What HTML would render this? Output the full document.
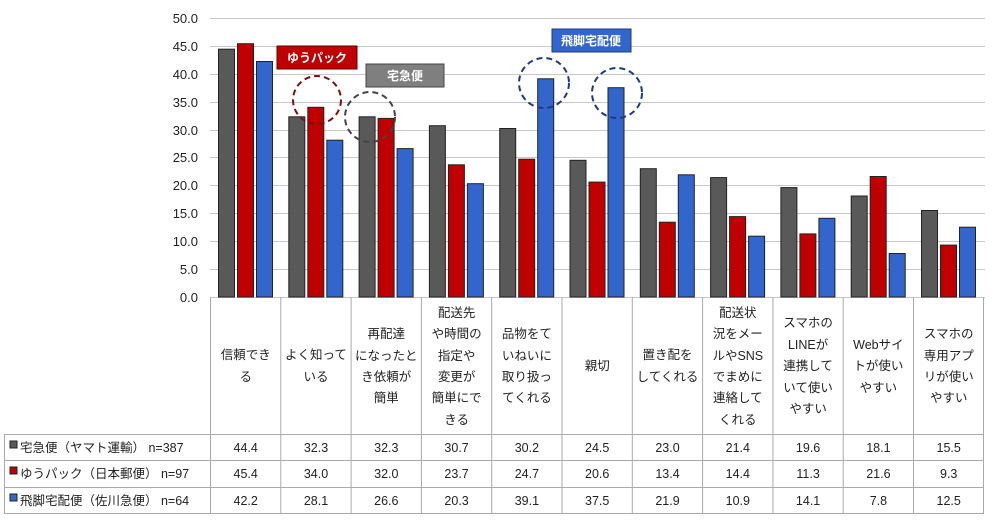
<!DOCTYPE html>
<html><head><meta charset="utf-8"><style>
html,body{margin:0;padding:0;background:#fff;}
svg{display:block;font-family:"Liberation Sans","Noto Sans CJK JP",sans-serif;}
</style></head><body>
<svg width="995" height="523" viewBox="0 0 995 523" xmlns="http://www.w3.org/2000/svg">
<g stroke="#c8c8c8" stroke-width="1">
<line x1="210" y1="18.5" x2="985" y2="18.5"/><line x1="210" y1="46.5" x2="985" y2="46.5"/>
<line x1="210" y1="74.5" x2="985" y2="74.5"/><line x1="210" y1="102.5" x2="985" y2="102.5"/>
<line x1="210" y1="130.5" x2="985" y2="130.5"/><line x1="210" y1="157.5" x2="985" y2="157.5"/>
<line x1="210" y1="185.5" x2="985" y2="185.5"/><line x1="210" y1="213.5" x2="985" y2="213.5"/>
<line x1="210" y1="241.5" x2="985" y2="241.5"/><line x1="210" y1="269.5" x2="985" y2="269.5"/>
<line x1="210" y1="297.5" x2="985" y2="297.5"/>
</g>
<g font-size="13" fill="#222" text-anchor="end">
<text x="198" y="23">50.0</text><text x="198" y="51">45.0</text><text x="198" y="79">40.0</text>
<text x="198" y="107">35.0</text><text x="198" y="135">30.0</text><text x="198" y="162">25.0</text>
<text x="198" y="190">20.0</text><text x="198" y="218">15.0</text><text x="198" y="246">10.0</text>
<text x="198" y="274">5.0</text><text x="198" y="302">0.0</text>
</g>
<g transform="translate(0,297) scale(1,-1)" stroke="#222" stroke-width="1">
<g fill="#595959">
<rect x="218.5" y="0" width="16" height="247.8"/><rect x="288.8" y="0" width="16" height="180.2"/>
<rect x="359.1" y="0" width="16" height="180.2"/><rect x="429.4" y="0" width="16" height="171.3"/>
<rect x="499.7" y="0" width="16" height="168.5"/><rect x="570" y="0" width="16" height="136.7"/>
<rect x="640.3" y="0" width="16" height="128.3"/><rect x="710.6" y="0" width="16" height="119.4"/>
<rect x="780.9" y="0" width="16" height="109.4"/><rect x="851.2" y="0" width="16" height="101"/>
<rect x="921.5" y="0" width="16" height="86.5"/>
</g>
<g fill="#c00000">
<rect x="237.5" y="0" width="16" height="253.3"/><rect x="307.8" y="0" width="16" height="189.7"/>
<rect x="378.1" y="0" width="16" height="178.6"/><rect x="448.4" y="0" width="16" height="132.2"/>
<rect x="518.7" y="0" width="16" height="137.8"/><rect x="589" y="0" width="16" height="114.9"/>
<rect x="659.3" y="0" width="16" height="74.8"/><rect x="729.6" y="0" width="16" height="80.4"/>
<rect x="799.9" y="0" width="16" height="63.1"/><rect x="870.2" y="0" width="16" height="120.5"/>
<rect x="940.5" y="0" width="16" height="51.9"/>
</g>
<g fill="#3366cc">
<rect x="256.5" y="0" width="16" height="235.5"/><rect x="326.8" y="0" width="16" height="156.8"/>
<rect x="397.1" y="0" width="16" height="148.4"/><rect x="467.4" y="0" width="16" height="113.3"/>
<rect x="537.7" y="0" width="16" height="218.2"/><rect x="608" y="0" width="16" height="209.3"/>
<rect x="678.3" y="0" width="16" height="122.2"/><rect x="748.6" y="0" width="16" height="60.8"/>
<rect x="818.9" y="0" width="16" height="78.7"/><rect x="889.2" y="0" width="16" height="43.5"/>
<rect x="959.5" y="0" width="16" height="69.8"/>
</g>
</g>
<g fill="none" stroke-width="2" stroke-dasharray="6,4">
<circle cx="317" cy="100" r="24" stroke="#7a1010"/>
<circle cx="370" cy="117" r="25" stroke="#444"/>
<circle cx="544" cy="83" r="25" stroke="#1f3a80"/>
<circle cx="617" cy="93" r="25" stroke="#1f3a80"/>
</g>
<g font-size="12" font-weight="bold" fill="#fff" text-anchor="middle">
<rect x="277" y="46" width="80" height="23" fill="#c00000" stroke="#600" />
<text x="317" y="62">ゆうパック</text>
<rect x="366" y="64" width="78" height="23" fill="#7f7f7f" stroke="#444"/>
<text x="405" y="80">宅急便</text>
<rect x="552" y="29" width="79" height="23" fill="#3366cc" stroke="#1f3a80"/>
<text x="591" y="45">飛脚宅配便</text>
</g>
<g stroke="#aaa" stroke-width="1" fill="none">
<line x1="210.5" y1="297" x2="210.5" y2="513"/><line x1="280.8" y1="297" x2="280.8" y2="513"/>
<line x1="351.1" y1="297" x2="351.1" y2="513"/><line x1="421.4" y1="297" x2="421.4" y2="513"/>
<line x1="491.7" y1="297" x2="491.7" y2="513"/><line x1="562" y1="297" x2="562" y2="513"/>
<line x1="632.3" y1="297" x2="632.3" y2="513"/><line x1="702.6" y1="297" x2="702.6" y2="513"/>
<line x1="772.9" y1="297" x2="772.9" y2="513"/><line x1="843.2" y1="297" x2="843.2" y2="513"/>
<line x1="913.5" y1="297" x2="913.5" y2="513"/><line x1="983.5" y1="297" x2="983.5" y2="513"/>
<line x1="4.5" y1="434" x2="4.5" y2="513"/>
<line x1="4" y1="434.5" x2="984" y2="434.5"/><line x1="4" y1="460.5" x2="984" y2="460.5"/>
<line x1="4" y1="487.5" x2="984" y2="487.5"/><line x1="4" y1="513.5" x2="984" y2="513.5"/>
</g>
<g font-size="12.5" fill="#222" text-anchor="middle">
<text x="245.7" y="359">信頼でき</text><text x="245.7" y="381">る</text>
<text x="316" y="359">よく知って</text><text x="316" y="381">いる</text>
<text x="386.3" y="338">再配達</text><text x="386.3" y="360">になったと</text><text x="386.3" y="381">き依頼が</text><text x="386.3" y="402">簡単</text>
<text x="456.6" y="317">配送先</text><text x="456.6" y="338">や時間の</text><text x="456.6" y="360">指定や</text><text x="456.6" y="381">変更が</text><text x="456.6" y="402">簡単にで</text><text x="456.6" y="424">きる</text>
<text x="526.9" y="338">品物をて</text><text x="526.9" y="360">いねいに</text><text x="526.9" y="381">取り扱っ</text><text x="526.9" y="402">てくれる</text>
<text x="597.2" y="370">親切</text>
<text x="667.5" y="359">置き配を</text><text x="667.5" y="381">してくれる</text>
<text x="737.8" y="317">配送状</text><text x="737.8" y="338">況をメー</text><text x="737.8" y="360">ルやSNS</text><text x="737.8" y="381">でまめに</text><text x="737.8" y="402">連絡して</text><text x="737.8" y="424">くれる</text>
<text x="808.1" y="327">スマホの</text><text x="808.1" y="349">LINEが</text><text x="808.1" y="370">連携して</text><text x="808.1" y="392">いて使い</text><text x="808.1" y="413">やすい</text>
<text x="878.4" y="349">Webサイ</text><text x="878.4" y="370">トが使い</text><text x="878.4" y="392">やすい</text>
<text x="948.7" y="338">スマホの</text><text x="948.7" y="360">専用アプ</text><text x="948.7" y="381">リが使い</text><text x="948.7" y="402">やすい</text>
</g>
<rect x="10" y="441" width="7" height="7" fill="#595959" stroke="#222"/>
<rect x="10" y="467" width="7" height="7" fill="#c00000" stroke="#222"/>
<rect x="10" y="494" width="7" height="7" fill="#3366cc" stroke="#222"/>
<g font-size="12.5" fill="#222">
<text x="20" y="452">宅急便（ヤマト運輸） n=387</text>
<text x="20" y="478">ゆうパック（日本郵便） n=97</text>
<text x="20" y="505">飛脚宅配便（佐川急便） n=64</text>
</g>
<g font-size="12.5" fill="#222" text-anchor="middle">
<text x="245.7" y="452">44.4</text><text x="316" y="452">32.3</text><text x="386.3" y="452">32.3</text><text x="456.6" y="452">30.7</text><text x="526.9" y="452">30.2</text><text x="597.2" y="452">24.5</text><text x="667.5" y="452">23.0</text><text x="737.8" y="452">21.4</text><text x="808.1" y="452">19.6</text><text x="878.4" y="452">18.1</text><text x="948.7" y="452">15.5</text>
<text x="245.7" y="478">45.4</text><text x="316" y="478">34.0</text><text x="386.3" y="478">32.0</text><text x="456.6" y="478">23.7</text><text x="526.9" y="478">24.7</text><text x="597.2" y="478">20.6</text><text x="667.5" y="478">13.4</text><text x="737.8" y="478">14.4</text><text x="808.1" y="478">11.3</text><text x="878.4" y="478">21.6</text><text x="948.7" y="478">9.3</text>
<text x="245.7" y="505">42.2</text><text x="316" y="505">28.1</text><text x="386.3" y="505">26.6</text><text x="456.6" y="505">20.3</text><text x="526.9" y="505">39.1</text><text x="597.2" y="505">37.5</text><text x="667.5" y="505">21.9</text><text x="737.8" y="505">10.9</text><text x="808.1" y="505">14.1</text><text x="878.4" y="505">7.8</text><text x="948.7" y="505">12.5</text>
</g>
</svg>
</body></html>
